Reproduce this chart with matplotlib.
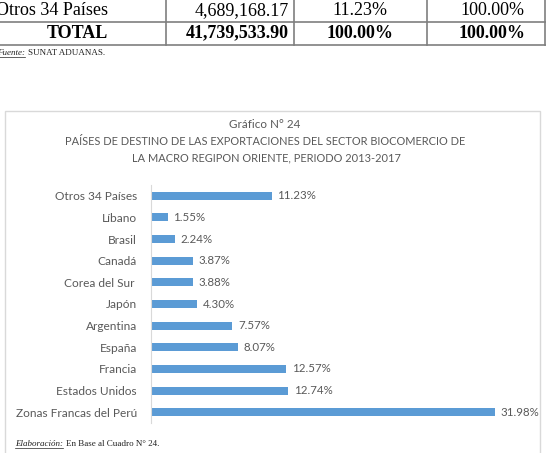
import matplotlib
matplotlib.use("Agg")
import matplotlib.pyplot as plt
from matplotlib.patches import Rectangle
from matplotlib.lines import Line2D

countries = ["Zonas Francas del Perú", "Estados Unidos", "Francia", "España", "Argentina",
             "Japón", "Corea del Sur ", "Canadá", "Brasil", "Líbano", "Otros 34 Países"]
shares = [31.98, 12.74, 12.57, 8.07, 7.57, 4.30, 3.88, 3.87, 2.24, 1.55, 11.23]
value_labels = ["31.98%", "12.74%", "12.57%", "8.07%", "7.57%", "4.30%", "3.88%",
                "3.87%", "2.24%", "1.55%", "11.23%"]

W, H = 546, 453
fig = plt.figure(figsize=(W / 100, H / 100), dpi=100)

def fx(x):
    return x / W

def fy(y):
    return 1 - y / H

serif = "Liberation Serif"
gray_txt = "#595959"
sans = "Lato"

# ---- table fragment ----
lc = "#7f7f7f"
for y in (21.5, 45):
    fig.add_artist(Line2D([0, 1], [fy(y), fy(y)], color=lc, lw=1.2))
for x in (166, 294, 427, 545):
    fig.add_artist(Line2D([fx(x), fx(x)], [fy(-2), fy(45)], color=lc, lw=1.2))

fig.text(fx(-4), fy(10.5), "Otros 34 Países", family=serif, size=13, va="center", ha="left")
fig.text(fx(289), fy(10.5), "4,689,168.17", family=serif, size=13, va="center", ha="right")
fig.text(fx(360), fy(10.5), "11.23%", family=serif, size=13, va="center", ha="center")
fig.text(fx(492), fy(10.5), "100.00%", family=serif, size=13, va="center", ha="center")
fig.text(fx(77), fy(33), "TOTAL", family=serif, size=13, weight="bold", va="center", ha="center")
fig.text(fx(289), fy(33), "41,739,533.90", family=serif, size=13, weight="bold", va="center", ha="right")
fig.text(fx(360), fy(33), "100.00%", family=serif, size=13, weight="bold", va="center", ha="center")
fig.text(fx(492), fy(33), "100.00%", family=serif, size=13, weight="bold", va="center", ha="center")

fig.canvas.draw()
renderer = fig.canvas.get_renderer()

def underlined_note(x, y, head, tail, size):
    t1 = fig.text(fx(x), fy(y), head, family=serif, size=size, style="italic",
                  va="baseline", ha="left", color="#222222")
    bb = t1.get_window_extent(renderer)
    fig.add_artist(Line2D([bb.x0 / W, bb.x1 / W], [fy(y + 1.5), fy(y + 1.5)],
                          color="#222222", lw=0.5))
    fig.text(bb.x1 / W + 3 / W, fy(y), tail, family=serif, size=size,
             va="baseline", ha="left", color="#222222")

underlined_note(-3, 55, "Fuente:", "SUNAT ADUANAS.", 6.5)

# ---- chart box ----
fig.add_artist(Rectangle((fx(5), fy(460)), (540 - 5) / W, (460 - 111) / H,
                         fill=False, edgecolor="#d9d9d9", lw=1.0))

fig.text(fx(265), fy(124), "Gráfico N° 24", family=sans, size=8.4, color=gray_txt,
         ha="center", va="center")
fig.text(fx(265.5), fy(141.5), "PAÍSES DE DESTINO DE LAS EXPORTACIONES DEL SECTOR BIOCOMERCIO DE",
         family=sans, size=7.9, color=gray_txt, ha="center", va="center")
fig.text(fx(266), fy(158), "LA MACRO REGIPON ORIENTE, PERIODO 2013-2017",
         family=sans, size=7.9, color=gray_txt, ha="center", va="center")

# axes: x from 151 to 151+35*10.757
x0, y_top, y_bot = 151, 185, 423
xmax = 35
scale = 10.757
ax = fig.add_axes([fx(x0), fy(y_bot), xmax * scale / W, (y_bot - y_top) / H])
ypos = list(range(len(countries)))
ax.barh(ypos, shares, height=0.37, color="#5b9bd5")
ax.set_xlim(0, xmax)
ax.set_ylim(-0.5, len(countries) - 0.5)
ax.set_yticks(ypos)
ax.set_yticklabels(countries, family=sans, size=8.6, color=gray_txt)
ax.tick_params(axis="y", length=0, pad=10)
ax.set_xticks([])
for s in ("top", "right", "bottom"):
    ax.spines[s].set_visible(False)
ax.spines["left"].set_color("#d9d9d9")
ax.spines["left"].set_linewidth(0.8)
ax.patch.set_alpha(0)
for yv, v, lab in zip(ypos, shares, value_labels):
    ax.annotate(lab, (v, yv), xytext=(4, 0), textcoords="offset points",
                va="center", ha="left", family=sans, size=8.3, color=gray_txt)

underlined_note(15, 446, "Elaboración:", "En Base al Cuadro N° 24.", 6.5)

fig.savefig("out.png", dpi=100)
